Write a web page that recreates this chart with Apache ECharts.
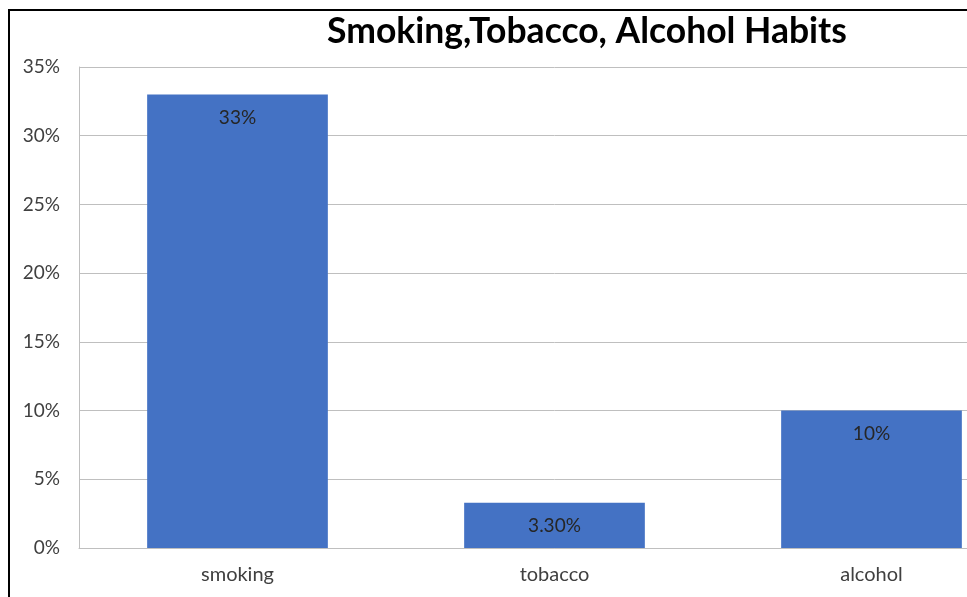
<!DOCTYPE html>
<html>
<head>
<meta charset="utf-8">
<script src="https://cdn.jsdelivr.net/npm/echarts@6/dist/echarts.min.js"></script>
<style>
  html, body { margin: 0; padding: 0; background: #fff; overflow: hidden; }
  /* the plot runs past the right edge of the page */
  #chart { width: 1100px; height: 597px; }
</style>
</head>
<body>
<div id="chart"></div>
<script>
// Survey results: share of respondents per habit
const categories = ['smoking', 'tobacco', 'alcohol'];
const shares = [33, 3.3, 10];
const shareLabels = ['33%', '3.30%', '10%'];
const titleText = 'Smoking,Tobacco, Alcohol Habits';

const chart = echarts.init(document.getElementById('chart'), null, { renderer: 'canvas' });

const font = 'Lato, "Open Sans", sans-serif';

chart.setOption({
  animation: false,
  backgroundColor: '#fff',
  title: {
    text: titleText,
    left: 582,
    top: 9,
    textAlign: 'center',
    textStyle: { fontFamily: font, fontWeight: 'bold', fontSize: 35.5, color: '#000' }
  },
  // frame along the left and top edges of the chart area
  graphic: [
    { type: 'line', shape: { x1: 9, y1: 9, x2: 9, y2: 600 }, style: { stroke: '#000', lineWidth: 2 }, silent: true },
    { type: 'line', shape: { x1: 8, y1: 10, x2: 1100, y2: 10 }, style: { stroke: '#000', lineWidth: 2 }, silent: true }
  ],
  grid: { left: 79, right: 70, top: 67, bottom: 49 },
  xAxis: {
    type: 'category',
    data: categories,
    axisLine: { lineStyle: { color: '#bfbfbf', width: 1 } },
    axisTick: { show: false },
    axisLabel: { color: '#404040', fontFamily: font, fontSize: 20, margin: 17 }
  },
  yAxis: {
    type: 'value',
    min: 0,
    max: 35,
    interval: 5,
    axisLine: { show: true, lineStyle: { color: '#bfbfbf', width: 1 } },
    axisTick: { show: false },
    splitLine: { lineStyle: { color: '#bfbfbf', width: 1 } },
    axisLabel: { formatter: '{value}%', color: '#404040', fontFamily: font, fontSize: 19, margin: 19 }
  },
  series: [{
    type: 'bar',
    data: shares,
    barWidth: '57%',
    itemStyle: { color: '#4472C4' },
    label: {
      show: true,
      position: 'insideTop',
      distance: 14,
      color: '#262626',
      fontFamily: font,
      fontSize: 19,
      formatter: p => shareLabels[p.dataIndex]
    }
  }]
});
</script>
</body>
</html>
